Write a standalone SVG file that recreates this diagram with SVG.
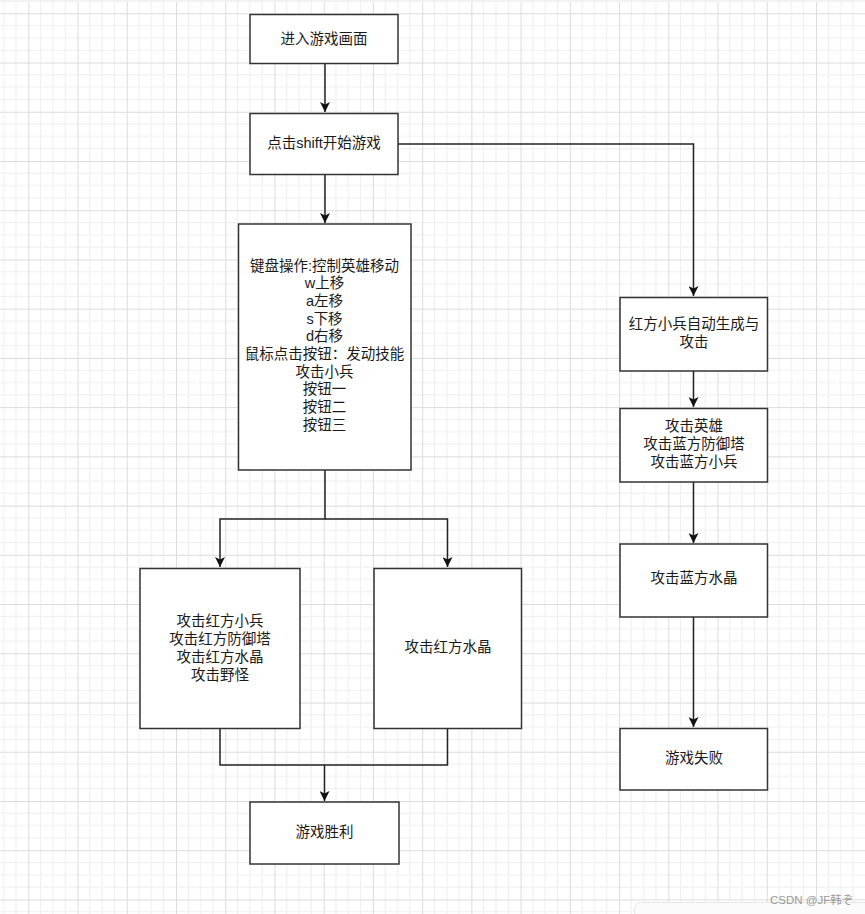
<svg xmlns="http://www.w3.org/2000/svg" width="865" height="914" viewBox="0 0 865 914">
<style>
.box{fill:#fff;stroke:#333;stroke-width:1.5}
.t{font-family:"Liberation Sans","Noto Sans CJK SC",sans-serif;font-size:14.5px;fill:#1a1a1a;text-anchor:middle;dominant-baseline:central}
.edge{fill:none;stroke:#222;stroke-width:1.5}
.wm{font-family:"Liberation Sans","Noto Sans CJK JP",sans-serif;font-size:11.5px;fill:#9a9a9a}
</style>
<defs>
<pattern id="grid" patternUnits="userSpaceOnUse" x="28.3" y="13.3" width="49.23" height="49.23">
<rect width="49.23" height="49.23" fill="#fff"/>
<path d="M12.31 0V49.23M24.62 0V49.23M36.92 0V49.23M0 12.31H49.23M0 24.62H49.23M0 36.92H49.23" stroke="#efefef" stroke-width="1" fill="none"/>
<path d="M0.5 0V49.23M0 0.5H49.23" stroke="#dcdcdc" stroke-width="1" fill="none"/>
</pattern>
<marker id="arr" markerWidth="10" markerHeight="10" viewBox="0 0 10 10" refX="10" refY="5" orient="auto" markerUnits="userSpaceOnUse">
<path d="M0 0L10 5L0 10L2.5 5Z" fill="#111"/>
</marker>
</defs>
<rect width="865" height="914" fill="url(#grid)"/>
<rect x="0" y="0" width="865" height="2" fill="#f2f2f2"/>

<g id="connectors">
<path class="edge" d="M325 63V112" marker-end="url(#arr)"/>
<path class="edge" d="M325 175V223" marker-end="url(#arr)"/>
<path class="edge" d="M398 144H693.5V296" marker-end="url(#arr)"/>
<path class="edge" d="M325 470V519H220V567" marker-end="url(#arr)"/>
<path class="edge" d="M325 519H447.5V567" marker-end="url(#arr)"/>
<path class="edge" d="M220 728V765H447.5V728"/>
<path class="edge" d="M324.5 765V801" marker-end="url(#arr)"/>
<path class="edge" d="M693.5 371V407" marker-end="url(#arr)"/>
<path class="edge" d="M693.5 482V543" marker-end="url(#arr)"/>
<path class="edge" d="M693.5 617V727" marker-end="url(#arr)"/>
</g>

<g id="n1"><rect class="box" x="250" y="14.5" width="148" height="49"/><text class="t" x="324" y="39">进入游戏画面</text></g>
<g id="n2"><rect class="box" x="250" y="113.5" width="148" height="61"/><text class="t" x="324" y="143">点击shift开始游戏</text></g>
<g id="n3"><rect class="box" x="238.5" y="224" width="172.5" height="246"/>
<text class="t" x="324.5" y="265.5">键盘操作:控制英雄移动</text>
<text class="t" x="324.5" y="283.2">w上移</text>
<text class="t" x="324.5" y="300.9">a左移</text>
<text class="t" x="324.5" y="318.6">s下移</text>
<text class="t" x="324.5" y="336.3">d右移</text>
<text class="t" x="324.5" y="354">鼠标点击按钮：发动技能</text>
<text class="t" x="324.5" y="371.7">攻击小兵</text>
<text class="t" x="324.5" y="389.4">按钮一</text>
<text class="t" x="324.5" y="407.1">按钮二</text>
<text class="t" x="324.5" y="424.8">按钮三</text>
</g>
<g id="n4"><rect class="box" x="140" y="568.5" width="160" height="160"/>
<text class="t" x="220" y="620.5">攻击红方小兵</text>
<text class="t" x="220" y="638.5">攻击红方防御塔</text>
<text class="t" x="220" y="656.5">攻击红方水晶</text>
<text class="t" x="220" y="674.5">攻击野怪</text>
</g>
<g id="n5"><rect class="box" x="374" y="568.5" width="147.5" height="160"/><text class="t" x="448" y="647">攻击红方水晶</text></g>
<g id="n6"><rect class="box" x="250" y="802" width="149" height="62"/><text class="t" x="324.5" y="832">游戏胜利</text></g>
<g id="n7"><rect class="box" x="620" y="297.5" width="147.5" height="73.5"/>
<text class="t" x="694" y="324">红方小兵自动生成与</text>
<text class="t" x="694" y="341.5">攻击</text>
</g>
<g id="n8"><rect class="box" x="620" y="408.5" width="147.5" height="73.5"/>
<text class="t" x="694" y="425.5">攻击英雄</text>
<text class="t" x="694" y="443.5">攻击蓝方防御塔</text>
<text class="t" x="694" y="461.5">攻击蓝方小兵</text>
</g>
<g id="n9"><rect class="box" x="620" y="544" width="147.5" height="73"/><text class="t" x="694" y="577.5">攻击蓝方水晶</text></g>
<g id="n10"><rect class="box" x="620" y="728.5" width="147.5" height="61.5"/><text class="t" x="694" y="758">游戏失败</text></g>

<rect x="634.5" y="902.5" width="260" height="30" rx="6" fill="#fbfbfb" stroke="#e6e6e6"/>
<text class="wm" x="770" y="903.5">CSDN @JF韩ぞ</text>
</svg>
